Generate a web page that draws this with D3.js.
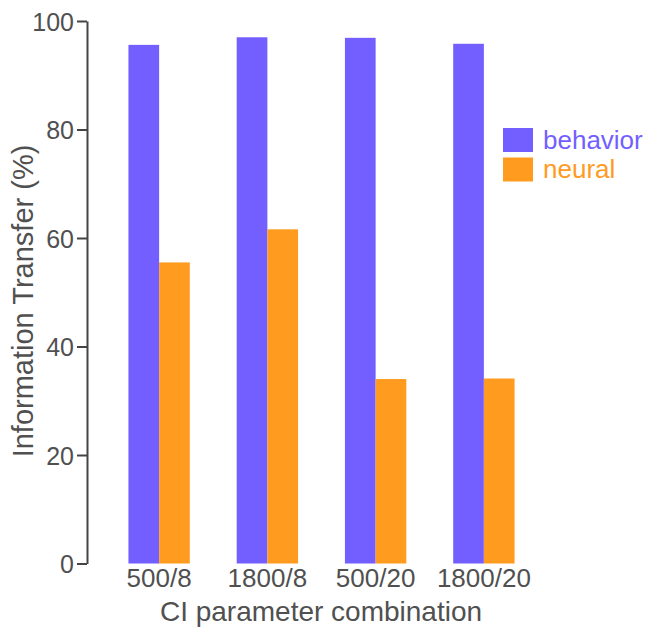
<!DOCTYPE html>
<html>
<head>
<meta charset="utf-8">
<script src="https://cdn.jsdelivr.net/npm/d3@7"></script>
<style>
  body { margin: 0; background: #fff; }
  svg text { font-family: "Liberation Sans", Arial, sans-serif; fill: #505050; }
</style>
</head>
<body>
<div id="chart"></div>
<script>
// CI parameter combos and info transfer per series
const combos = ["500/8", "1800/8", "500/20", "1800/20"];
const seriesNames = ["behavior", "neural"];
const behavior = [95.6, 97.0, 96.9, 95.8];
const neural = [55.5, 61.6, 34.0, 34.1];
const yTicks = [0, 20, 40, 60, 80, 100];

const colors = { behavior: "#735fff", neural: "#ff9b1f" };

const W = 646, H = 629;
const svg = d3.select("#chart").append("svg").attr("width", W).attr("height", H);

const y = d3.scaleLinear().domain([0, 100]).range([563.5, 21]);
const x = d3.scaleBand().domain(combos).range([105, 538]).paddingInner(0.433).paddingOuter(0.2165);
const xs = d3.scaleBand().domain(seriesNames).range([0, x.bandwidth()]);

const rows = combos.map((c, i) => ({ combo: c, behavior: behavior[i], neural: neural[i] }));

// bars
const groups = svg.append("g").selectAll("g").data(rows).enter().append("g")
  .attr("transform", d => `translate(${x(d.combo)},0)`);
groups.selectAll("rect").data(d => seriesNames.map(k => ({ key: k, value: d[k] }))).enter().append("rect")
  .attr("x", d => xs(d.key))
  .attr("y", d => y(d.value))
  .attr("width", xs.bandwidth())
  .attr("height", d => y(0) - y(d.value))
  .attr("fill", d => colors[d.key]);

// y axis
const yAxis = svg.append("g").attr("transform", "translate(87,0)")
  .call(d3.axisLeft(y).tickValues(yTicks).tickSize(10).tickPadding(3).tickSizeOuter(0));
yAxis.select(".domain").attr("stroke", "#444").attr("stroke-width", 2);
yAxis.selectAll(".tick line").attr("stroke", "#444").attr("stroke-width", 2);
yAxis.selectAll(".tick text").attr("font-size", "25px").attr("fill", "#505050")
  .attr("font-family", "Liberation Sans, Arial, sans-serif").attr("dy", "0.36em");

// x tick labels (no axis line)
svg.append("g").selectAll("text").data(combos).enter().append("text")
  .attr("x", d => x(d) + x.bandwidth() / 2)
  .attr("y", 587)
  .attr("text-anchor", "middle")
  .attr("font-size", "26px")
  .text(d => d);

// axis titles
svg.append("text")
  .attr("x", 321).attr("y", 621)
  .attr("text-anchor", "middle").attr("font-size", "28px")
  .text("CI parameter combination");

svg.append("text")
  .attr("transform", "translate(33,301) rotate(-90)")
  .attr("text-anchor", "middle").attr("font-size", "29px")
  .text("Information Transfer (%)");

// legend
const legend = svg.append("g").attr("transform", "translate(503,128)");
seriesNames.forEach((k, i) => {
  const g = legend.append("g").attr("transform", `translate(0,${i * 29.5})`);
  g.append("rect").attr("width", 30).attr("height", 24).attr("fill", colors[k]);
  g.append("text").attr("x", 40).attr("y", 20.5).attr("font-size", "26px")
    .style("fill", colors[k]).text(k);
});
</script>
</body>
</html>
